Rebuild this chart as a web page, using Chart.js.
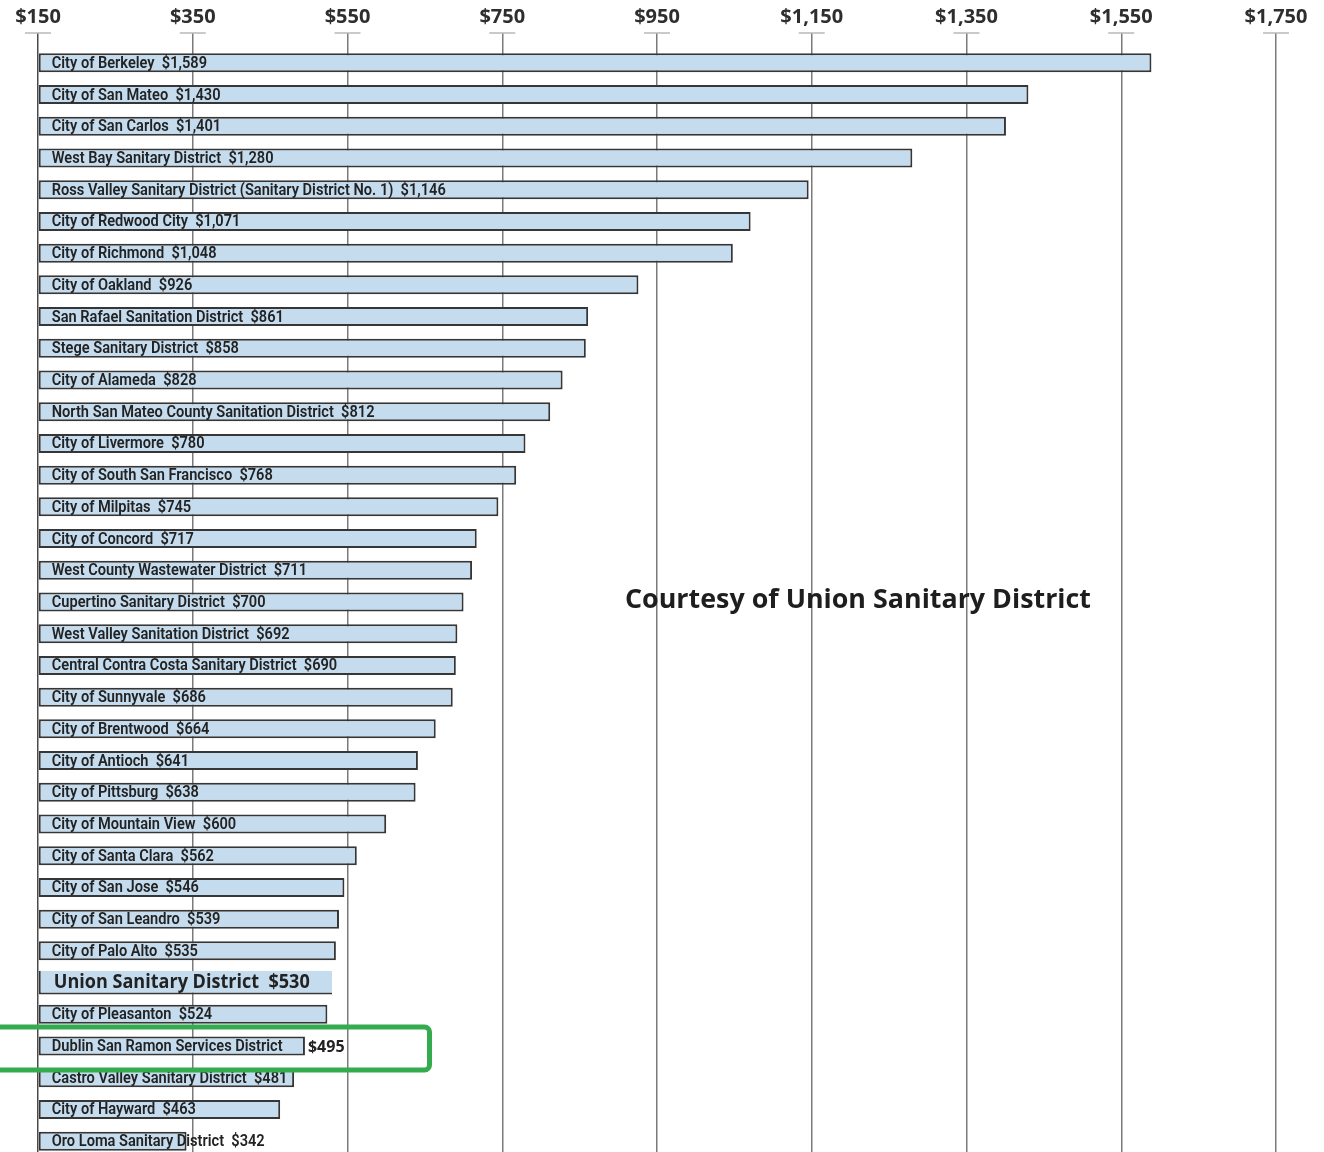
<!DOCTYPE html>
<html>
<head>
<meta charset="utf-8">
<script src="https://cdn.jsdelivr.net/npm/chart.js@4.4.1/dist/chart.umd.min.js"></script>
<style>
  html, body { margin: 0; padding: 0; background: #fff; overflow: hidden; }
  #wrap { position: relative; width: 1324px; height: 1157px; }
</style>
</head>
<body>
<div id="wrap"><canvas id="rates"></canvas></div>
<script>
// Annual sewer rates of Bay Area agencies
const agencies = [
  'City of Berkeley', 'City of San Mateo', 'City of San Carlos', 'West Bay Sanitary District',
  'Ross Valley Sanitary District (Sanitary District No. 1)', 'City of Redwood City', 'City of Richmond',
  'City of Oakland', 'San Rafael Sanitation District', 'Stege Sanitary District', 'City of Alameda',
  'North San Mateo County Sanitation District', 'City of Livermore', 'City of South San Francisco',
  'City of Milpitas', 'City of Concord', 'West County Wastewater District', 'Cupertino Sanitary District',
  'West Valley Sanitation District', 'Central Contra Costa Sanitary District', 'City of Sunnyvale',
  'City of Brentwood', 'City of Antioch', 'City of Pittsburg', 'City of Mountain View',
  'City of Santa Clara', 'City of San Jose', 'City of San Leandro', 'City of Palo Alto',
  'Union Sanitary District', 'City of Pleasanton', 'Dublin San Ramon Services District',
  'Castro Valley Sanitary District', 'City of Hayward', 'Oro Loma Sanitary District'
];
const rates = [
  1589, 1430, 1401, 1280, 1146, 1071, 1048, 926, 861, 858, 828, 812, 780, 768, 745, 717, 711, 700,
  692, 690, 686, 664, 641, 638, 600, 562, 546, 539, 535, 530, 524, 495, 481, 463, 342
];
const tickValues = [150, 350, 550, 750, 950, 1150, 1350, 1550, 1750];
const highlightAgency = 'Union Sanitary District';
const circledAgency = 'Dublin San Ramon Services District';
const courtesy = 'Courtesy of Union Sanitary District';

const money = v => '$' + v.toLocaleString('en-US');
const barBlue = '#c5dcee';
const barEdge = '#363636';
const labelFont = '600 16px Roboto';

// draw text squeezed horizontally (condensed look)
function squeezed(ctx, text, x, y, sx) {
  ctx.save();
  ctx.translate(x, y);
  ctx.scale(sx, 1);
  ctx.fillText(text, 0, 0);
  ctx.restore();
}

const tickCaps = {
  id: 'tickCaps',
  beforeDatasetsDraw(chart) {
    const { ctx, chartArea, scales: { x } } = chart;
    const y = chartArea.top - x.options.grid.tickLength;
    ctx.save();
    ctx.strokeStyle = '#b8b8b8';
    ctx.lineWidth = 1.5;
    x.ticks.forEach(t => {
      const px = x.getPixelForValue(t.value);
      ctx.beginPath();
      ctx.moveTo(px - 13, y);
      ctx.lineTo(px + 13, y);
      ctx.stroke();
    });
    ctx.restore();
  }
};

const barLabels = {
  id: 'barLabels',
  afterDatasetsDraw(chart) {
    const { ctx } = chart;
    const main = chart.getDatasetMeta(0).data;
    const hi = chart.getDatasetMeta(1).data;
    ctx.save();
    ctx.textBaseline = 'middle';
    ctx.textAlign = 'left';
    ctx.fillStyle = '#222';
    ctx.font = labelFont;
    const sx = 394 / ctx.measureText(agencies[4] + '  ' + money(rates[4])).width;
    agencies.forEach((name, i) => {
      if (name === highlightAgency) {
        const bar = hi[i];
        ctx.font = 'bold 19px "Open Sans"';
        const txt = name + '  ' + money(rates[i]);
        const hsx = 256 / ctx.measureText(txt).width;
        squeezed(ctx, txt, bar.base + 15, bar.y, hsx);
        ctx.font = labelFont;
        return;
      }
      const bar = main[i];
      if (name === circledAgency) {
        squeezed(ctx, name, bar.base + 13, bar.y + 1, sx);
        ctx.font = 'bold 16px "Open Sans"';
        ctx.fillText(money(rates[i]), bar.x + 3, bar.y + 1);
        ctx.font = labelFont;
        return;
      }
      squeezed(ctx, name + '  ' + money(rates[i]), bar.base + 13, bar.y + 1, sx);
    });
    ctx.restore();
  },
  afterDraw(chart) {
    const { ctx, scales: { x } } = chart;
    const i = agencies.indexOf(circledAgency);
    const bar = chart.getDatasetMeta(0).data[i];
    const right = x.getPixelForValue(656);
    ctx.save();
    ctx.strokeStyle = '#34ab4e';
    ctx.lineWidth = 5;
    ctx.beginPath();
    ctx.roundRect(-10, bar.y - 19, right + 10, 43, 5);
    ctx.stroke();

    ctx.fillStyle = '#1e1e1e';
    ctx.font = 'bold 27px "Open Sans"';
    ctx.textBaseline = 'middle';
    ctx.textAlign = 'left';
    const w = ctx.measureText(courtesy).width;
    squeezed(ctx, courtesy, 858 - 233, 600, 466 / w);
    ctx.restore();
  }
};

const isHi = agencies.map(a => a === highlightAgency);

const rateChart = new Chart(document.getElementById('rates'), {
  type: 'bar',
  data: {
    labels: agencies,
    datasets: [{
      data: rates.map((v, i) => isHi[i] ? null : v),
      backgroundColor: barBlue,
      borderColor: barEdge,
      borderWidth: 2,
      borderSkipped: false,
      barPercentage: 0.6,
      categoryPercentage: 1,
      grouped: false,
      base: 150,
    }, {
      data: rates.map((v, i) => isHi[i] ? v : null),
      backgroundColor: barBlue,
      borderColor: barEdge,
      borderWidth: { left: 2, bottom: 2, top: 0, right: 0 },
      borderSkipped: false,
      barPercentage: 0.75,
      categoryPercentage: 1,
      grouped: false,
      base: 150,
    }]
  },
  options: {
    indexAxis: 'y',
    responsive: true,
    maintainAspectRatio: false,
    animation: false,
    events: [],
    layout: {
      padding: { top: 1, left: 38, right: 48, bottom: 0 }
    },
    plugins: {
      legend: { display: false },
      tooltip: { enabled: false },
    },
    scales: {
      x: {
        position: 'top',
        min: 150,
        max: 1750,
        afterBuildTicks: s => { s.ticks = tickValues.map(v => ({ value: v })); },
        border: { display: false },
        grid: {
          color: c => c.tick && c.tick.value === 150 ? '#4a4a4a' : '#7a7a7a',
          lineWidth: 1.5,
          tickLength: 14,
        },
        ticks: {
          padding: 4,
          maxRotation: 0,
          color: '#2e2e2e',
          font: { family: '"Open Sans"', size: 20, weight: 'bold' },
          callback: v => money(v),
        },
      },
      y: {
        display: false,
      },
    },
  },
  plugins: [tickCaps, barLabels],
});
</script>
</body>
</html>
